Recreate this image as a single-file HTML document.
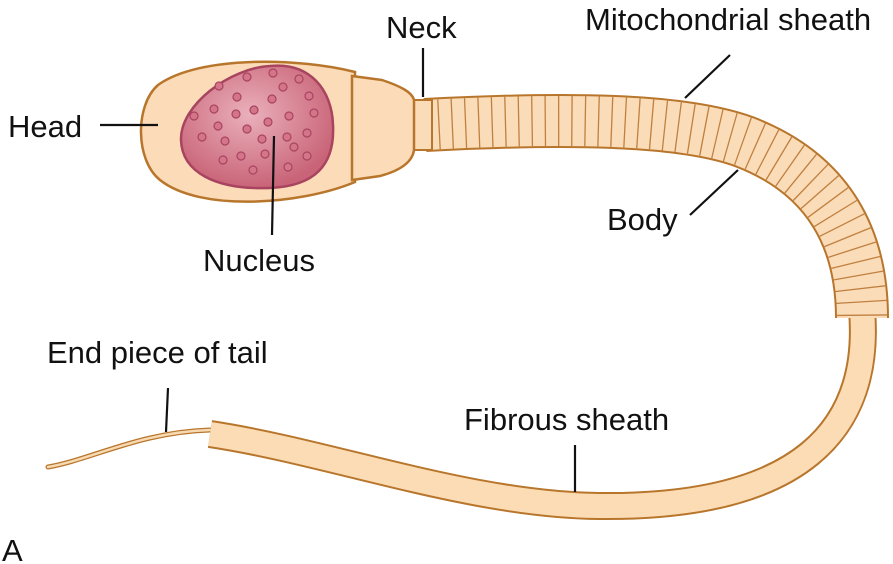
<!DOCTYPE html>
<html><head><style>
html,body{margin:0;padding:0;background:#fff;}
svg{display:block;font-family:"Liberation Sans",sans-serif;}
</style></head><body>
<svg width="893" height="564" viewBox="0 0 893 564" xmlns="http://www.w3.org/2000/svg">
<defs>
<radialGradient id="nuc" cx="0.45" cy="0.4" r="0.6"><stop offset="0" stop-color="#eab0bb"/><stop offset="1" stop-color="#c96478"/></radialGradient>
</defs>
<!-- tail -->
<path d="M48,467 C90,460 140,432 210,430" fill="none" stroke="#b8762c" stroke-width="5" stroke-linecap="round"/>
<path d="M48,467 C90,460 140,432 210,430" fill="none" stroke="#f7d9b2" stroke-width="2.5" stroke-linecap="round"/>
<path d="M210,434 C330,452 470,505 600,506 C800,508 872,430 862,310" fill="none" stroke="#b8762c" stroke-width="28"/>
<path d="M210,434 C330,452 470,505 600,506 C800,508 872,430 862,310" fill="none" stroke="#fbdcb4" stroke-width="24"/>
<!-- body -->
<path d="M425,125 C560,118 680,118 745,142 C830,175 862,240 862,318" fill="none" stroke="#b8762c" stroke-width="54"/>
<path d="M425,125 C560,118 680,118 745,142 C830,175 862,240 862,318" fill="none" stroke="#fbdcb8" stroke-width="50"/>
<path d="M425,125 C560,118 680,118 745,142 C830,175 862,240 862,318" fill="none" stroke="#c08040" stroke-width="50" stroke-dasharray="1.3 12"/>
<!-- neck -->
<rect x="412" y="100" width="20" height="50" fill="#fbdcb8" stroke="#b8762c" stroke-width="2"/>
<!-- head -->
<path d="M355,72 C300,58 200,55 158,85 C135,105 135,160 160,180 C200,212 300,205 355,182 Z" fill="#fcdcb8" stroke="#b8762c" stroke-width="2.5"/>
<path d="M352,76 L382,80 C400,86 412,92 414,100 L414,150 C412,165 395,172 380,176 L352,180 Z" fill="#fcdcb8" stroke="#b8762c" stroke-width="2.5"/>
<path d="M270,66 C310,62 332,90 333,125 C335,165 315,186 270,188 C215,190 182,172 181,140 C180,105 230,68 270,66 Z" fill="url(#nuc)" stroke="#a84460" stroke-width="2.5"/>
<g fill="#d4758a" stroke="#a84460" stroke-width="1.2">
<circle cx="219" cy="86" r="4"/><circle cx="247" cy="77" r="4"/><circle cx="273" cy="73" r="4"/><circle cx="299" cy="79" r="4"/><circle cx="283" cy="87" r="4"/><circle cx="237" cy="97" r="4"/><circle cx="272" cy="99" r="4"/><circle cx="309" cy="96" r="4"/><circle cx="214" cy="109" r="4"/><circle cx="236" cy="114" r="4"/><circle cx="254" cy="110" r="4"/><circle cx="289" cy="116" r="4"/><circle cx="314" cy="113" r="4"/><circle cx="194" cy="116" r="4"/><circle cx="218" cy="126" r="4"/><circle cx="247" cy="129" r="4"/><circle cx="268" cy="122" r="4"/><circle cx="307" cy="133" r="4"/><circle cx="202" cy="137" r="4"/><circle cx="225" cy="141" r="4"/><circle cx="262" cy="139" r="4"/><circle cx="287" cy="137" r="4"/><circle cx="294" cy="147" r="4"/><circle cx="223" cy="160" r="4"/><circle cx="241" cy="156" r="4"/><circle cx="265" cy="154" r="4"/><circle cx="307" cy="156" r="4"/><circle cx="253" cy="170" r="4"/><circle cx="288" cy="167" r="4"/>
</g>
<!-- leaders -->
<g stroke="#111" stroke-width="2.2" fill="none">
<line x1="100" y1="125" x2="158" y2="125"/>
<line x1="274" y1="136" x2="272" y2="235"/>
<line x1="423" y1="48" x2="423" y2="97"/>
<line x1="685" y1="98" x2="730" y2="55"/>
<line x1="690" y1="215" x2="738" y2="170"/>
<line x1="168" y1="388" x2="166" y2="432"/>
<line x1="575" y1="445" x2="575" y2="492"/>
</g>
<g font-size="31" fill="#111">
<text x="8" y="137">Head</text>
<text x="203" y="271">Nucleus</text>
<text x="386" y="38">Neck</text>
<text x="585" y="30">Mitochondrial sheath</text>
<text x="607" y="230">Body</text>
<text x="47" y="363">End piece of tail</text>
<text x="464" y="430">Fibrous sheath</text>
<text x="2" y="561">A</text>
</g>
</svg>
</body></html>
